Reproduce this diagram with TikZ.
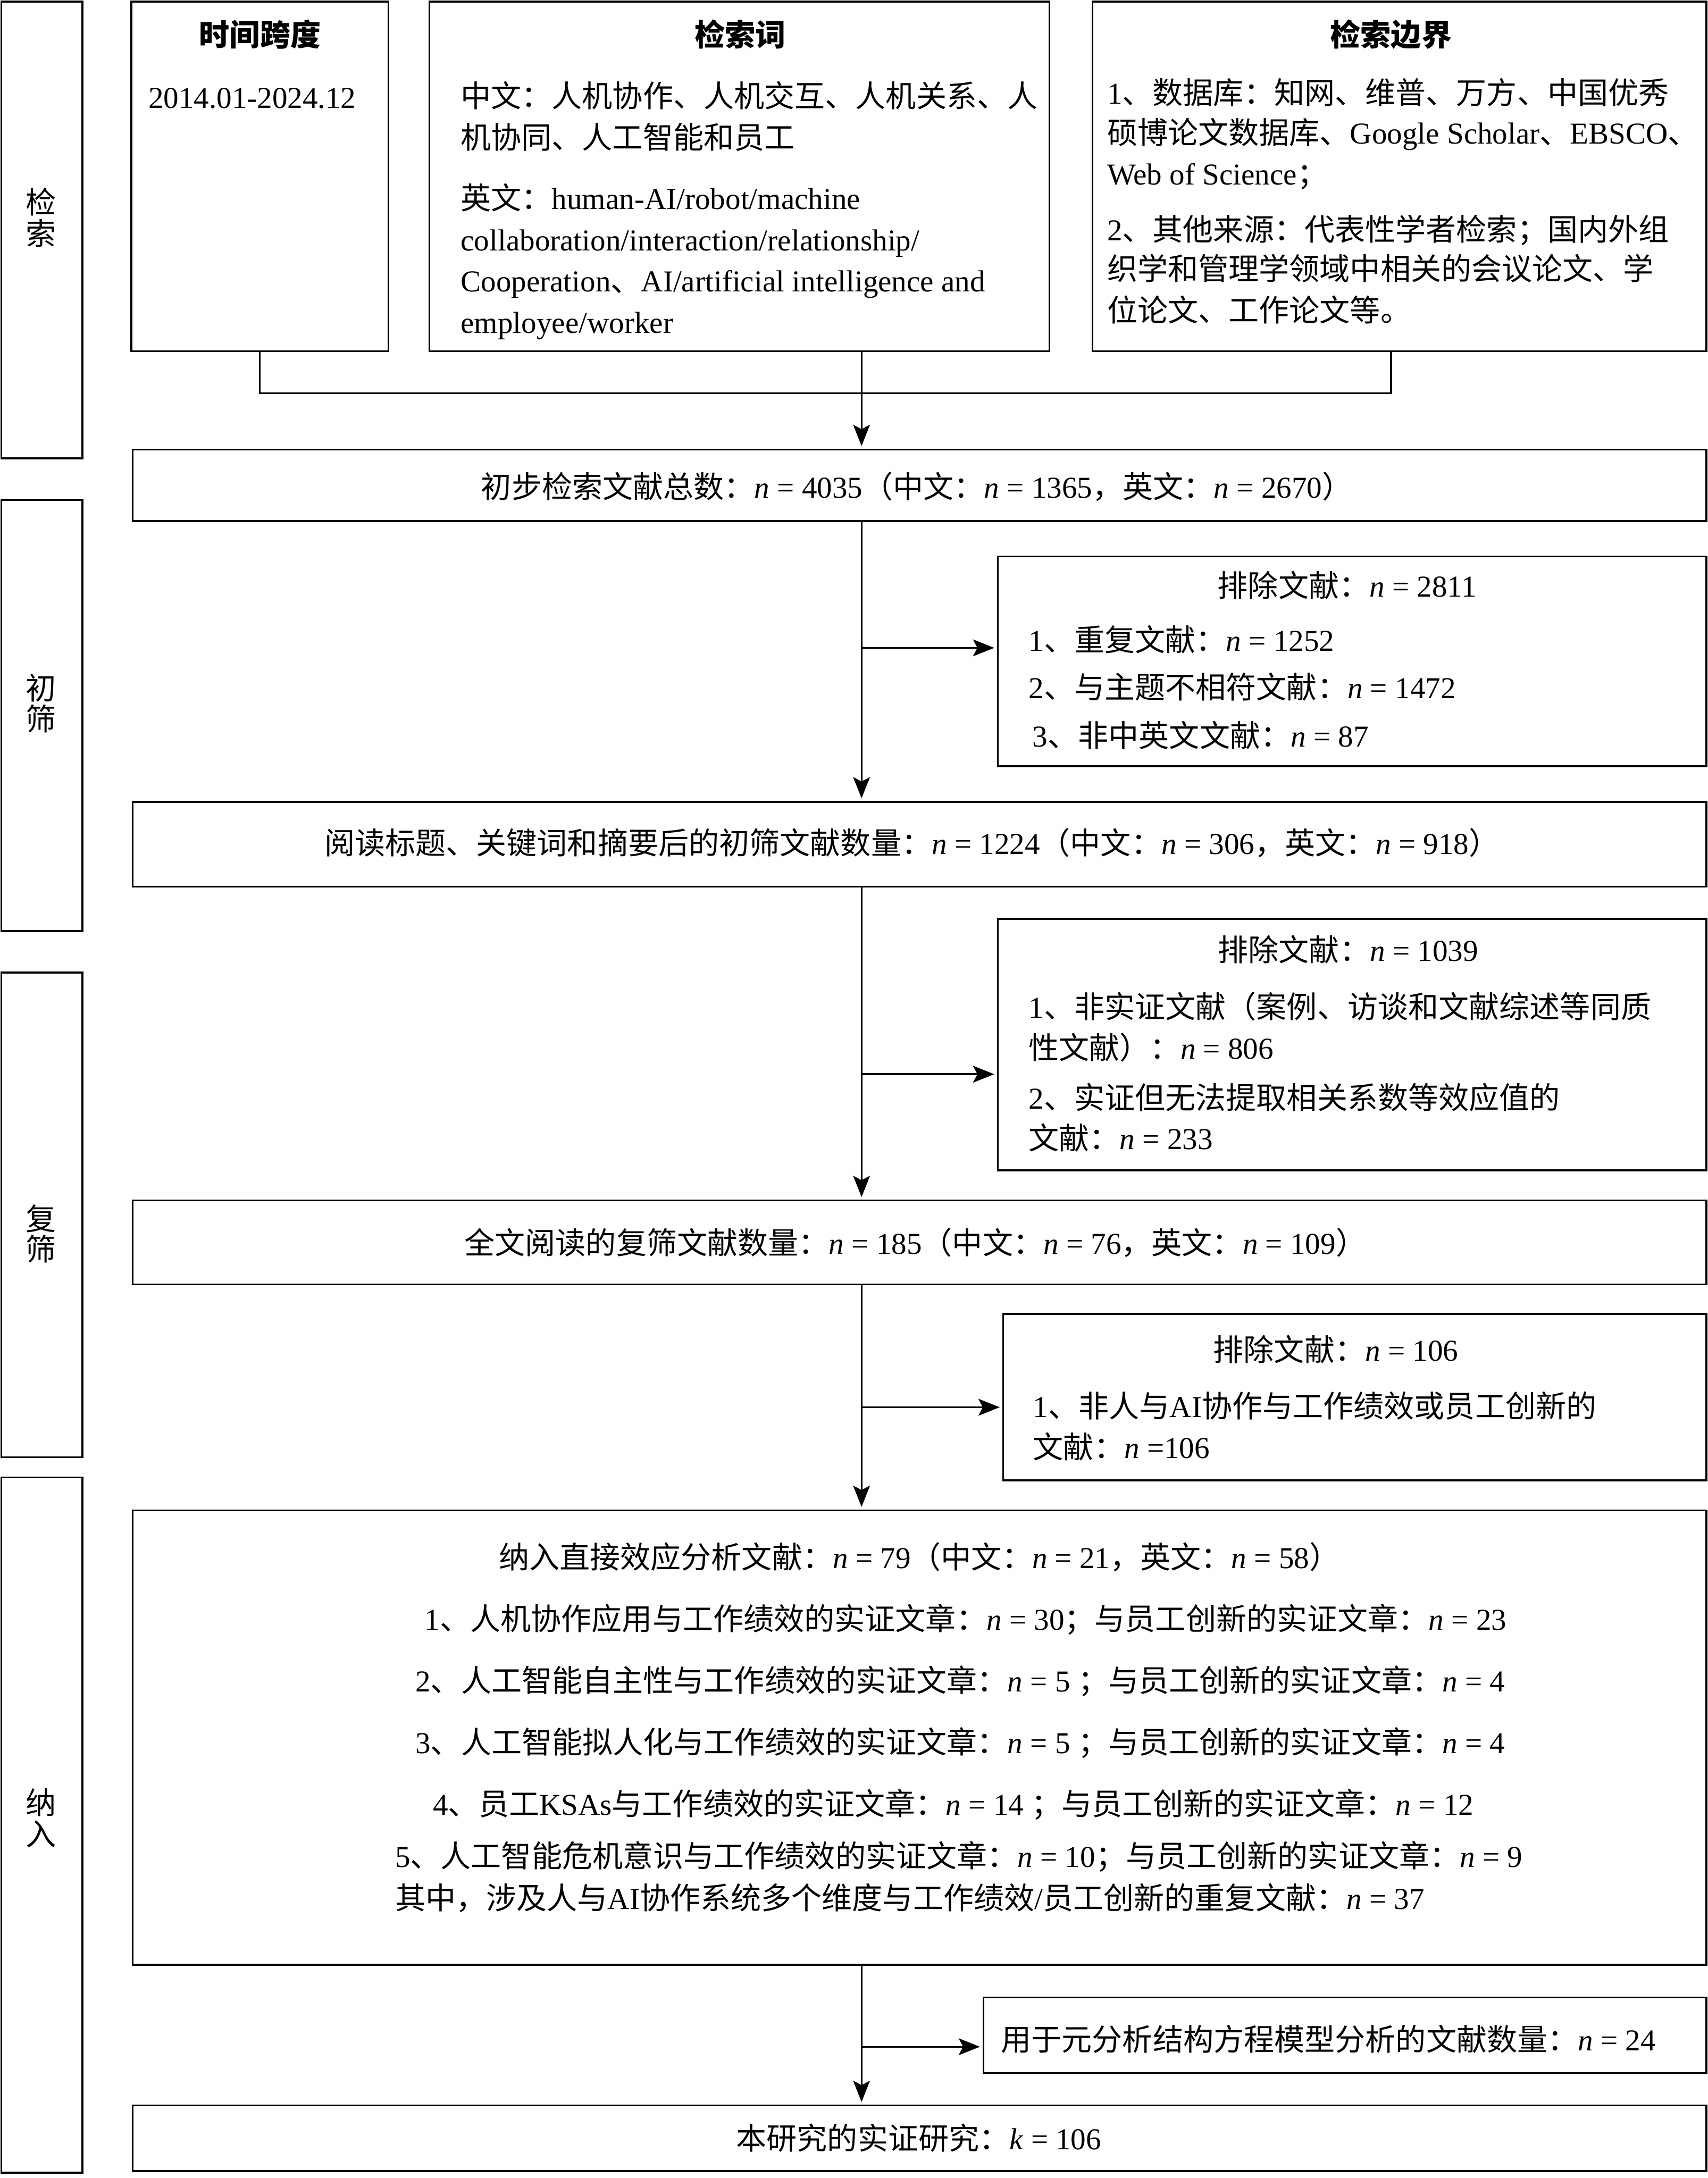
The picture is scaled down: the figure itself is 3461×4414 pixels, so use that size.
\documentclass[tikz,border=0pt]{standalone}
\usepackage{fontspec}
\setmainfont{Liberation Serif}
\newfontfamily\zh{Noto Sans CJK SC}
\usetikzlibrary{arrows.meta,fit}
\newcommand\zw[1]{{\zh #1}}
\newcommand\nn{\textit{n}}
\newcommand\fsz{\fontsize{17.5pt}{22pt}\selectfont}
\begin{document}
\begin{tikzpicture}[x=0.01cm,y=-0.01cm,
  box/.style={draw,line width=1.05pt,inner sep=0pt},
  ln/.style={line width=1.05pt},
  arr/.style={line width=1.05pt,-{Stealth[length=0.43cm,width=0.34cm,inset=0.09cm]},shorten >=1.5pt},
  txt/.style={inner sep=0pt,font=\fsz,text height=14pt,text depth=1.7pt},
  lt/.style={txt,anchor=west},
  hd/.style={txt,font=\fsz\zh\bfseries}]
\path[fill=white,use as bounding box] (0,0) rectangle (3461,4414);

% stage boxes
\node[box,fit={(3,3)(167,929)}] (s1) {};
\node[box,fit={(3,1013)(167,1887)}] (s2) {};
\node[box,fit={(3,1971)(167,2953)}] (s3) {};
\node[box,fit={(3,2994)(167,4403)}] (s4) {};
\node[txt] (g1a) at (83,411) {\zw{检}};
\node[txt] (g1b) at (83,475) {\zw{索}};
\node[txt] (g2a) at (83,1396) {\zw{初}};
\node[txt] (g2b) at (83,1459) {\zw{筛}};
\node[txt] (g3a) at (83,2471) {\zw{复}};
\node[txt] (g3b) at (83,2533) {\zw{筛}};
\node[txt] (g4a) at (83,3655) {\zw{纳}};
\node[txt] (g4b) at (83,3718) {\zw{入}};

% top boxes
\node[box,fit={(266,3)(787,712)}] (top1) {};
\node[box,fit={(870,3)(2127,712)}] (top2) {};
\node[box,fit={(2214,3)(3458,712)}] (top3) {};

\node[hd] (h1) at (527,72) {时间跨度};
\node[lt] (d1) at (300,198) {2014.01-2024.12};

\node[hd] (h2) at (1500,72) {检索词};
\node[lt] (w1) at (933,196) {\zw{中文：人机协作、人机交互、人机关系、人}};
\node[lt] (w2) at (933,280) {\zw{机协同、人工智能和员工}};
\node[lt] (w3) at (933,402) {\zw{英文：}human-AI/robot/machine};
\node[lt] (w4) at (933,486) {collaboration/interaction/relationship/};
\node[lt] (w5) at (933,569) {Cooperation\zw{、}AI/artificial intelligence and};
\node[lt] (w6) at (933,653) {employee/worker};

\node[hd] (h3) at (2819,72) {检索边界};
\node[lt] (b1) at (2243,189) {1\zw{、数据库：知网、维普、万方、中国优秀}};
\node[lt] (b2) at (2243,270) {\zw{硕博论文数据库、}Google Scholar\zw{、}EBSCO\zw{、}};
\node[lt] (b3) at (2243,353) {Web of Science\zw{；}};
\node[lt] (b4) at (2243,466) {2\zw{、其他来源：代表性学者检索；国内外组}};
\node[lt] (b5) at (2243,546) {\zw{织学和管理学领域中相关的会议论文、学}};
\node[lt] (b6) at (2243,630) {\zw{位论文、工作论文等。}};

% main flow boxes
\node[box,fit={(269,911)(3458,1056)}] (m1) {};
\node[box,fit={(2022,1128)(3458,1553)}] (e1) {};
\node[box,fit={(269,1625)(3458,1797)}] (m2) {};
\node[box,fit={(2022,1862)(3458,2372)}] (e2) {};
\node[box,fit={(269,2433)(3458,2603)}] (m3) {};
\node[box,fit={(2033,2663)(3458,3000)}] (e3) {};
\node[box,fit={(269,3061)(3458,3982)}] (m4) {};
\node[box,fit={(1993,4048)(3458,4201)}] (e4) {};
\node[box,fit={(269,4267)(3458,4400)}] (m5) {};

\node[txt] (t1) at (1858,988) {\zw{初步检索文献总数：}\nn{} = 4035\zw{（中文：}\nn{} = 1365\zw{，英文：}\nn{} = 2670\zw{）}};

\node[txt] (x1t) at (2730,1188) {\zw{排除文献：}\nn{} = 2811};
\node[lt] (x1a) at (2084,1298) {1\zw{、重复文献：}\nn{} = 1252};
\node[lt] (x1b) at (2084,1394) {2\zw{、与主题不相符文献：}\nn{} = 1472};
\node[lt] (x1c) at (2092,1492) {3\zw{、非中英文文献：}\nn{} = 87};

\node[txt] (t2) at (1848,1710) {\zw{阅读标题、关键词和摘要后的初筛文献数量：}\nn{} = 1224\zw{（中文：}\nn{} = 306\zw{，英文：}\nn{} = 918\zw{）}};

\node[txt] (x2t) at (2732,1926) {\zw{排除文献：}\nn{} = 1039};
\node[lt] (x2a) at (2084,2041) {1\zw{、非实证文献（案例、访谈和文献综述等同质}};
\node[lt] (x2b) at (2084,2124) {\zw{性文献）：}\nn{} = 806};
\node[lt] (x2c) at (2084,2226) {2\zw{、实证但无法提取相关系数等效应值的}};
\node[lt] (x2d) at (2084,2308) {\zw{文献：}\nn{} = 233};

\node[txt] (t3) at (1855,2520) {\zw{全文阅读的复筛文献数量：}\nn{} = 185\zw{（中文：}\nn{} = 76\zw{，英文：}\nn{} = 109\zw{）}};

\node[txt] (x3t) at (2707,2737) {\zw{排除文献：}\nn{} = 106};
\node[lt] (x3a) at (2093,2851) {1\zw{、非人与}AI\zw{协作与工作绩效或员工创新的}};
\node[lt] (x3b) at (2093,2934) {\zw{文献：}\nn{} =106};

\node[txt] (t4) at (1863,3157) {\zw{纳入直接效应分析文献：}\nn{} = 79\zw{（中文：}\nn{} = 21\zw{，英文：}\nn{} = 58\zw{）}};
\node[txt] (r1) at (1957,3282) {1\zw{、人机协作应用与工作绩效的实证文章：}\nn{} = 30\zw{；与员工创新的实证文章：}\nn{} = 23};
\node[txt] (r2) at (1946,3407) {2\zw{、人工智能自主性与工作绩效的实证文章：}\nn{} = 5 \zw{；与员工创新的实证文章：}\nn{} = 4};
\node[txt] (r3) at (1946,3532) {3\zw{、人工智能拟人化与工作绩效的实证文章：}\nn{} = 5 \zw{；与员工创新的实证文章：}\nn{} = 4};
\node[txt] (r4) at (1932,3657) {4\zw{、员工}KSAs\zw{与工作绩效的实证文章：}\nn{} = 14 \zw{；与员工创新的实证文章：}\nn{} = 12};
\node[lt] (r5) at (800,3762) {5\zw{、人工智能危机意识与工作绩效的实证文章：}\nn{} = 10\zw{；与员工创新的实证文章：}\nn{} = 9};
\node[lt] (r6) at (800,3848) {\zw{其中，涉及人与}AI\zw{协作系统多个维度与工作绩效}/\zw{员工创新的重复文献：}\nn{} = 37};

\node[lt] (x4t) at (2028,4134) {\zw{用于元分析结构方程模型分析的文献数量：}\nn{} = 24};
\node[txt] (t5) at (1862,4335) {\zw{本研究的实证研究：}\textit{k} = 106};

% connectors
\coordinate (tx) at (1746,0);
\coordinate (jy) at (0,797);
\coordinate (c3) at (2819,0);
\draw[ln] (top1.south) -- (top1.south |- jy) -- (jy -| c3) -- (top3.south -| c3);
\draw[ln] (top2.south -| tx) -- (jy -| tx);
\draw[arr] (jy -| tx) -- (m1.north -| tx);
\draw[arr] (m1.south -| tx) -- (m2.north -| tx);
\coordinate (a1) at (0,1313);
\draw[arr] (a1 -| tx) -- (a1 -| e1.west);
\draw[arr] (m2.south -| tx) -- (m3.north -| tx);
\coordinate (a2) at (0,2177);
\draw[arr] (a2 -| tx) -- (a2 -| e2.west);
\draw[arr] (m3.south -| tx) -- (m4.north -| tx);
\coordinate (a3) at (0,2852);
\draw[arr] (a3 -| tx) -- (a3 -| e3.west);
\draw[arr] (m4.south -| tx) -- (m5.north -| tx);
\coordinate (a4) at (0,4148);
\draw[arr] (a4 -| tx) -- (a4 -| e4.west);
\end{tikzpicture}
\end{document}
